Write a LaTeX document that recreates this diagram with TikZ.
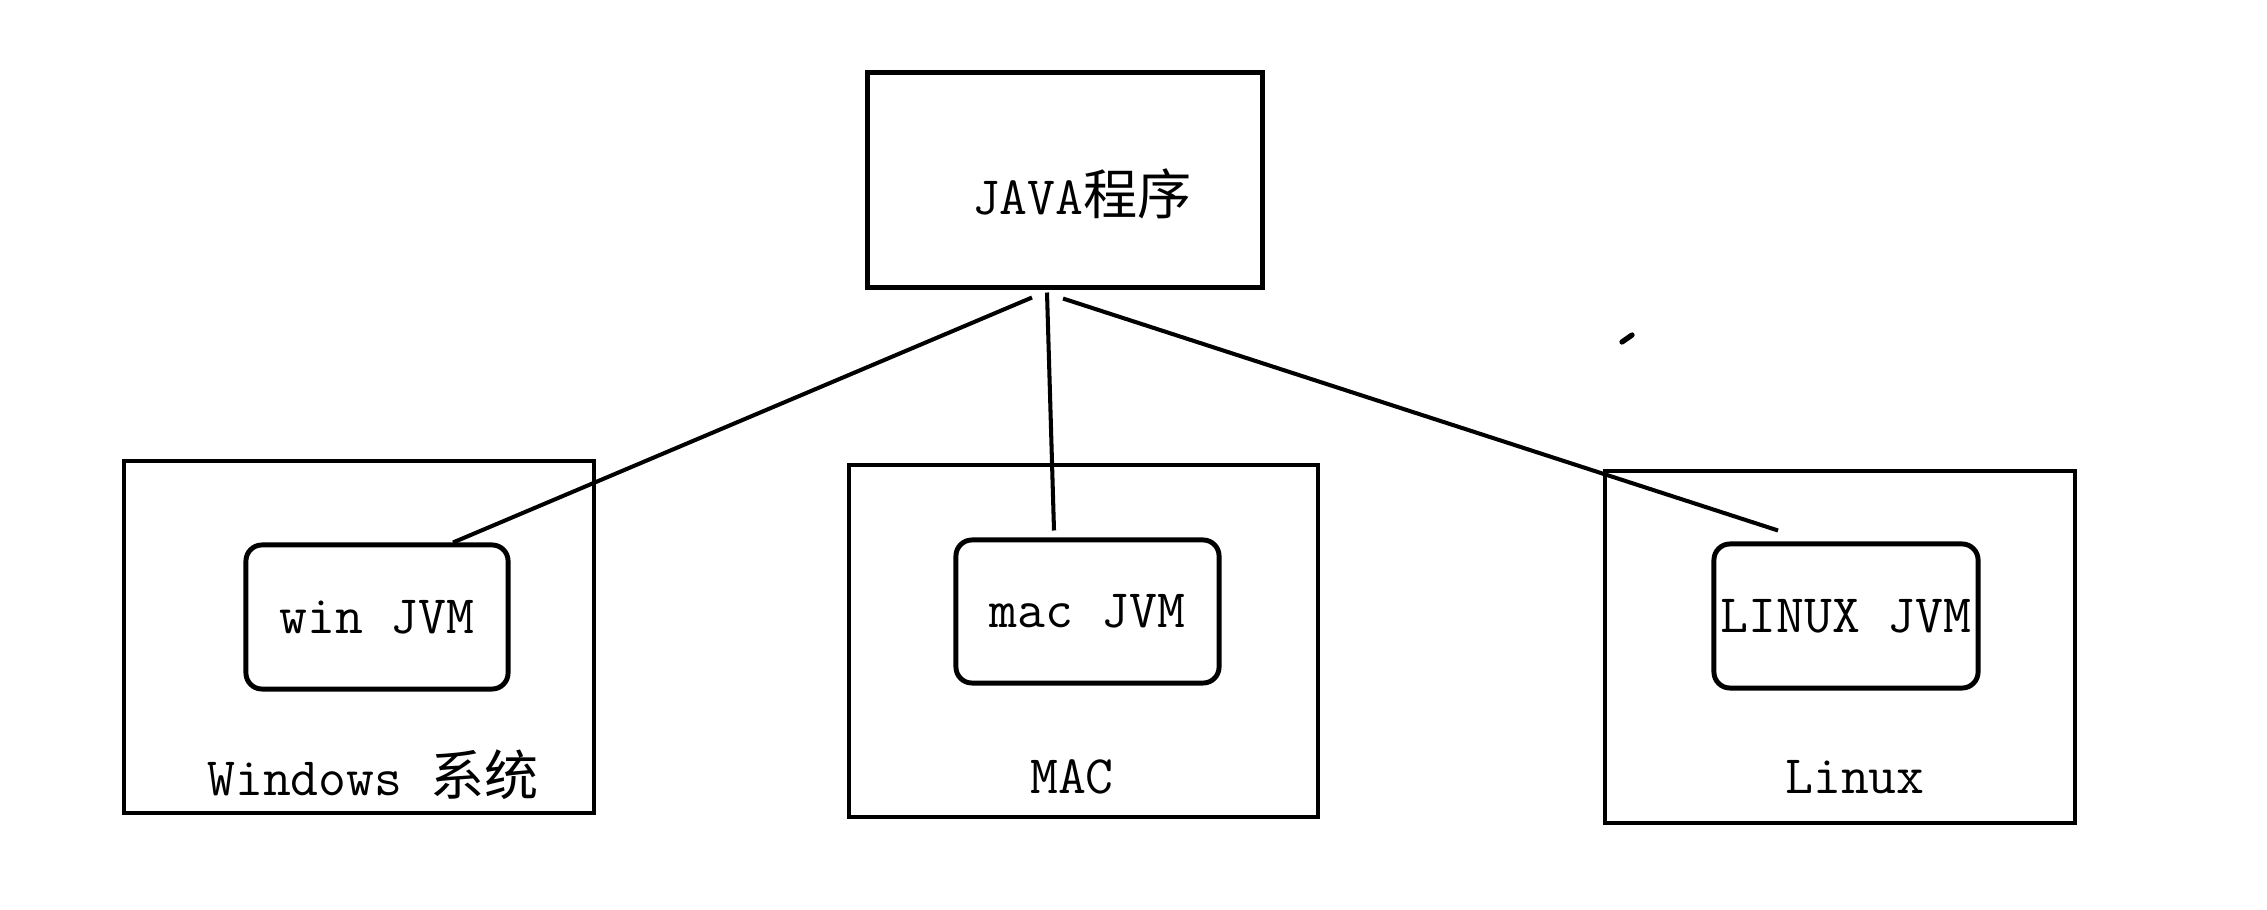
\documentclass[tikz,border=0pt]{standalone}
\usepackage{fontspec}
\newfontfamily\cjk{Noto Sans CJK SC}

\begin{document}
\begin{tikzpicture}[x=0.01cm, y=-0.01cm]
        \tikzstyle{osbox}=[draw=black,line width=1.15pt,inner sep=0pt,minimum width=4.69cm,minimum height=3.52cm]
        \tikzstyle{jvmbox}=[draw=black,line width=1.4pt,rounded corners=0.16cm,inner sep=0pt,minimum width=2.63cm,minimum height=1.43cm,font=\ttfamily\fontsize{15.4pt}{18pt}\selectfont]
        \tikzstyle{oslabel}=[anchor=base,inner sep=0pt,font=\ttfamily\fontsize{15.4pt}{18pt}\selectfont]
        \tikzstyle{link}=[line width=1.15pt]

        \useasboundingbox (0,0) rectangle (2267,910);

        \node (java)[draw=black,line width=1.4pt,inner sep=0pt,minimum width=3.94cm,minimum height=2.14cm] at (1065,180) {};
        \node (javatext)[oslabel] at (1082,215) {JAVA{\cjk 程序}};

        \node (win)[osbox] at (359,637) {};
        \node (mac)[osbox] at (1083.5,641) {};
        \node (linux)[osbox,minimum width=4.70cm] at (1840,647) {};

        \node (winjvm)[jvmbox,minimum width=2.62cm,minimum height=1.44cm] at (377,617) {win JVM};
        \node (macjvm)[jvmbox] at (1087.5,611.5) {mac JVM};
        \node (linuxjvm)[jvmbox,minimum width=2.64cm,minimum height=1.44cm] at (1846,616) {LINUX JVM};

        \node (winlabel)[oslabel] at (373,795) {Windows {\cjk 系统}};
        \node (maclabel)[oslabel] at (1072,793) {MAC};
        \node (linuxlabel)[oslabel] at (1855,793) {Linux};

        \draw[link] ([shift={(-33,8)}]java.south) -- ([shift={(76,0)}]winjvm.north);
        \draw[link] ([shift={(-18,3)}]java.south) -- ([shift={(-33.5,-7)}]macjvm.north);
        \draw[link] ([shift={(-2,9)}]java.south) -- ([shift={(-68,-11)}]linuxjvm.north);

        % stray stroke
        \draw[line width=1.5pt, line cap=round] (1622,342) -- (1632,335);
\end{tikzpicture}
\end{document}
